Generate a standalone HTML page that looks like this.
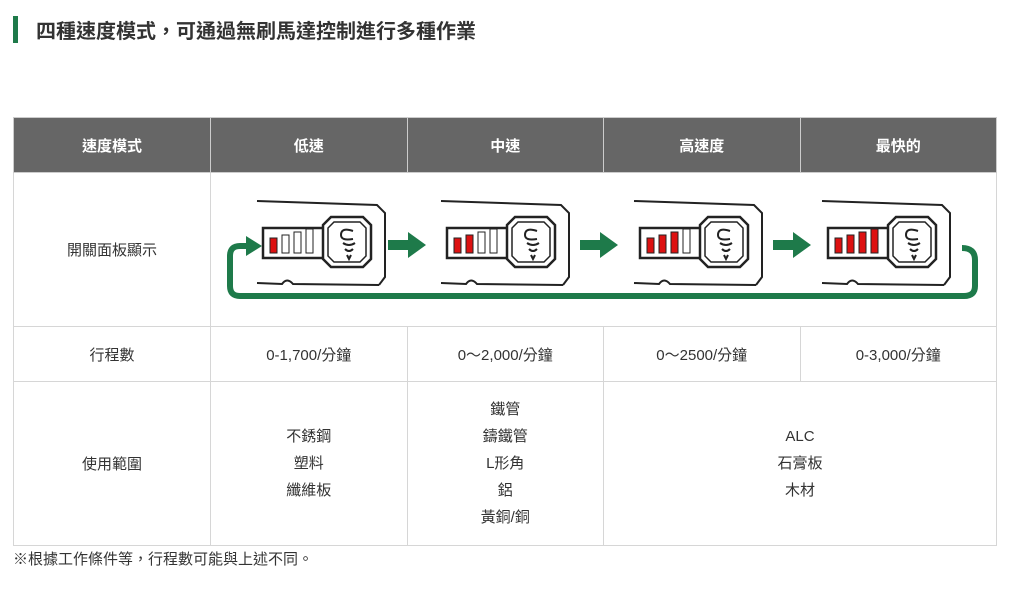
<!DOCTYPE html>
<html><head><meta charset="utf-8"><style>
body{margin:0;background:#fff;font-family:"Liberation Sans","Noto Sans CJK TC",sans-serif;width:1015px;height:609px;position:relative;overflow:hidden}
.t{position:absolute;left:36px;top:15px;font-size:20px;font-weight:bold;color:#333}
.bar{position:absolute;left:13px;top:16px;width:5px;height:27px;background:#1e7a4a}
table{position:absolute;left:13px;top:117px;border-collapse:collapse;table-layout:fixed;width:984px}
td,th{border:1px solid #d6d6d6;text-align:center;font-size:15px;color:#333;padding:0}
th{background:#666;color:#fff;height:54px;font-weight:bold;border-color:#ccc}
.n{position:absolute;left:13px;top:548px;font-size:15px;color:#333}
</style></head><body>
<div class="bar"></div><div class="t">四種速度模式，可通過無刷馬達控制進行多種作業</div>
<table>
<tr><th style="width:196px">速度模式</th><th>低速</th><th>中速</th><th>高速度</th><th>最快的</th></tr>
<tr><td style="height:153px">開關面板顯示</td><td colspan="4"></td></tr>
<tr><td style="height:54px">行程數</td><td>0-1,700/分鐘</td><td>0～2,000/分鐘</td><td>0～2500/分鐘</td><td>0-3,000/分鐘</td></tr>
<tr><td style="height:163px">使用範圍</td><td style="line-height:27px">不銹鋼<br>塑料<br>纖維板</td><td style="line-height:27px">鐵管<br>鑄鐵管<br>L形角<br>鋁<br>黃銅/銅</td><td colspan="2" style="line-height:27px">ALC<br>石膏板<br>木材</td></tr>
</table>
<div class="n">※根據工作條件等，行程數可能與上述不同。</div>
<svg width="1015" height="609" style="position:absolute;left:0;top:0">
<defs>
<g id="p" fill="none" stroke="#222">
<path d="M0,2 L120,6 L128,14 L128,78 L122,86" stroke-width="2"/>
<path d="M0,84 L25,85 Q30,78 36,85 L122,86" stroke-width="2"/>
<rect x="6" y="29" width="62" height="30" stroke-width="2.5" fill="#fff"/>
<path d="M74,18 L106,18 L114,26 L114,60 L106,68 L74,68 L66,60 L66,26 Z" stroke-width="2.5" fill="#fff"/>
<path d="M77,23 L103,23 L109,29 L109,57 L103,63 L77,63 L71,57 L71,29 Z" stroke-width="1.5"/>
<path d="M96,32 Q84,28 84,36 Q84,42 96,40 M86,44 Q92,48 98,44 M88,50 Q92,54 96,50 M90,56 L92,60 L94,56" stroke-width="2"/>
</g>
<g id="b1"><rect x="13" y="39" width="7" height="15" rx="1.5" stroke="#222"/></g>
</defs>
<path d="M962,248 Q975,248 975,260 L975,286 Q975,296 964,296 L240,296 Q230,296 230,286 L230,256 Q230,246 240,246 L248,246" fill="none" stroke="#1e7a4a" stroke-width="6"/>
<path d="M246,236 L262,246 L246,256 Z" fill="#1e7a4a"/>
<g transform="translate(257,199)"><use href="#p"/>
<rect x="13" y="39" width="7" height="15" fill="#d11" stroke="#222"/><rect x="25" y="36" width="7" height="18" fill="#fff" stroke="#222"/><rect x="37" y="33" width="7" height="21" fill="#fff" stroke="#222"/><rect x="49" y="30" width="7" height="24" fill="#fff" stroke="#222"/></g>
<g transform="translate(441,199)"><use href="#p"/>
<rect x="13" y="39" width="7" height="15" fill="#d11" stroke="#222"/><rect x="25" y="36" width="7" height="18" fill="#d11" stroke="#222"/><rect x="37" y="33" width="7" height="21" fill="#fff" stroke="#222"/><rect x="49" y="30" width="7" height="24" fill="#fff" stroke="#222"/></g>
<g transform="translate(634,199)"><use href="#p"/>
<rect x="13" y="39" width="7" height="15" fill="#d11" stroke="#222"/><rect x="25" y="36" width="7" height="18" fill="#d11" stroke="#222"/><rect x="37" y="33" width="7" height="21" fill="#d11" stroke="#222"/><rect x="49" y="30" width="7" height="24" fill="#fff" stroke="#222"/></g>
<g transform="translate(822,199)"><use href="#p"/>
<rect x="13" y="39" width="7" height="15" fill="#d11" stroke="#222"/><rect x="25" y="36" width="7" height="18" fill="#d11" stroke="#222"/><rect x="37" y="33" width="7" height="21" fill="#d11" stroke="#222"/><rect x="49" y="30" width="7" height="24" fill="#d11" stroke="#222"/></g>
<g fill="#1e7a4a">
<path d="M388,240 L408,240 L408,232 L426,245 L408,258 L408,250 L388,250 Z"/>
<path d="M580,240 L600,240 L600,232 L618,245 L600,258 L600,250 L580,250 Z"/>
<path d="M773,240 L793,240 L793,232 L811,245 L793,258 L793,250 L773,250 Z"/>
</g>
</svg>
</body></html>
